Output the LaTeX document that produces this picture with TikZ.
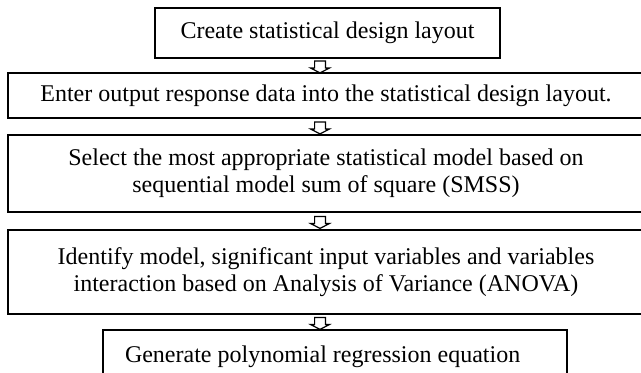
\documentclass[tikz,border=0pt]{standalone}
\usepackage{fontspec}
\setmainfont{Liberation Serif}
\usetikzlibrary{shapes.arrows}

\tikzset{
    stepbox/.style={draw, line width=1pt, align=center, inner sep=0pt,
        font=\fontsize{18}{20.5}\selectfont},
    downarrow/.style={single arrow, draw, line width=0.9pt, rotate=-90,
        minimum height=9pt, inner xsep=0pt, inner ysep=3.6pt,
        single arrow head extend=3pt, single arrow tip angle=125}
}

\begin{document}
\begin{tikzpicture}[x=0.75pt, y=-0.75pt]
    \useasboundingbox (0,0) rectangle (641,372);

    % Boxes
    \node[stepbox, minimum width=258.75pt, minimum height=37.5pt] (b1) at (327.5,33)
        {Create statistical design layout};
    \node[stepbox, minimum width=477pt, minimum height=33.75pt] (b2) at (326,95.5)
        {Enter output response data into the statistical design layout.};
    \node[stepbox, minimum width=477pt, minimum height=57.75pt] (b3) at (326,173.5)
        {Select the most appropriate statistical model based on\\
         sequential model sum of square (SMSS)};
    \node[stepbox, minimum width=477pt, minimum height=63pt] (b4) at (326,272)
        {Identify model, significant input variables and variables\\
         interaction based on Analysis of Variance (ANOVA)};
    \node[stepbox, inner xsep=16.5pt, minimum height=40.5pt] (b5) at (335,357)
        {\makebox[315pt][l]{Generate polynomial regression equation}};

    % Arrows
    \coordinate (axis) at (320,0);
    \foreach \a/\b in {b1/b2, b2/b3, b3/b4, b4/b5}
        \path (\a.south -| axis) -- (\b.north -| axis)
            node[midway, downarrow] (arr-\a) {};
\end{tikzpicture}
\end{document}
